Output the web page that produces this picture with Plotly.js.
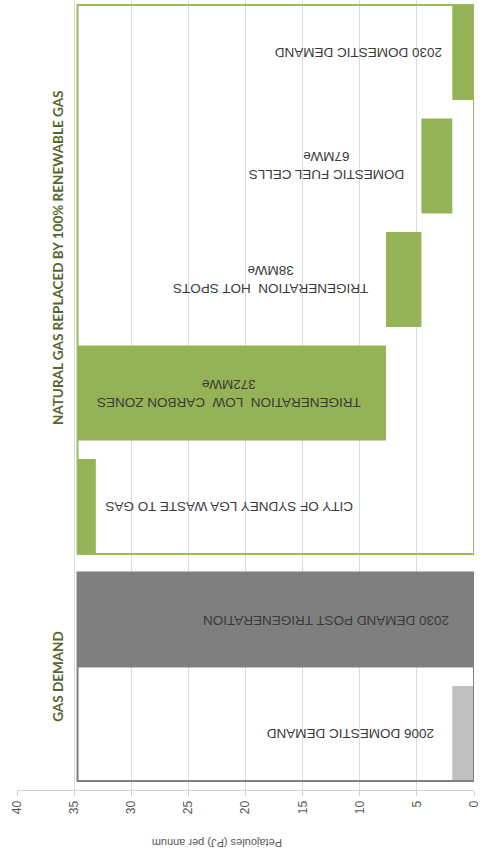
<!DOCTYPE html>
<html>
<head>
<meta charset="utf-8">
<script src="https://cdn.plot.ly/plotly-3.0.1.min.js"></script>
<style>
  html, body { margin: 0; padding: 0; background: #ffffff; }
  #chart { width: 483px; height: 858px; }
</style>
</head>
<body>
<div id="chart"></div>
<script>
// ---------- data ----------
const categories = [
  "2030 DOMESTIC DEMAND",
  "DOMESTIC FUEL CELLS",
  "TRIGENERATION HOT SPOTS",
  "TRIGENERATION LOW CARBON ZONES",
  "CITY OF SYDNEY LGA WASTE TO GAS",
  "2030 DEMAND POST TRIGENERATION",
  "2006 DOMESTIC DEMAND"
];
const barStart = [0, 1.9, 4.6, 7.7, 33.1, 0, 0];
const barValue = [1.9, 2.7, 3.1, 27.0, 1.6, 34.7, 1.9];
const capacityLabels = ["", "67MWe", "38MWe", "372MWe", "", "", ""];
const groupNames = ["NATURAL GAS REPLACED BY 100% RENEWABLE GAS", "GAS DEMAND"];
const groupOfCategory = [0, 0, 0, 0, 0, 1, 1];
const tickValues = [0, 5, 10, 15, 20, 25, 30, 35, 40];
const axisTitle = "Petajoules (PJ) per annum";

// ---------- layout / style ----------
const barColors = ["#93b356", "#93b356", "#93b356", "#93b356", "#93b356", "#7f7f7f", "#bfbfbf"];
const groupLineColors = ["#9bbb59", "#7f7f7f"];
const labelAt = [10.2, 12.9, 17.8, 21.5, 21.4, 13.0, 10.9];
const groupLabelX = 36.4;
const groupLabelShift = [-0.19, 0];
const barWidth = 0.837;

const bar = {
  type: "bar",
  orientation: "h",
  y: categories,
  x: barValue,
  base: barStart,
  width: barWidth,
  marker: { color: barColors, line: { width: 0 } },
  hoverinfo: "skip",
  showlegend: false
};

const annotations = [];
categories.forEach((c, i) => {
  const t = capacityLabels[i] ? c.replace("TRIGENERATION ", "TRIGENERATION  ").replace("LOW ", "LOW  ") + "<br>" + capacityLabels[i] : c;
  annotations.push({
    x: labelAt[i], y: i, xref: "x", yref: "y",
    text: t, showarrow: false, textangle: 180,
    font: { family: "Liberation Sans, Arial, sans-serif", size: 13.5, color: "#3a3a3a" }
  });
});

const shapes = [];
groupNames.forEach((g, gi) => {
  const idx = [];
  groupOfCategory.forEach((v, i) => { if (v === gi) idx.push(i); });
  const y0 = Math.min(...idx) - barWidth / 2;
  const y1 = Math.max(...idx) + barWidth / 2;
  const xMax = Math.max(...idx.map(i => barStart[i] + barValue[i]));
  shapes.push({
    type: "rect", xref: "x", yref: "y",
    x0: 0, x1: xMax, y0: y0, y1: y1,
    line: { color: groupLineColors[gi], width: 2 },
    fillcolor: "rgba(0,0,0,0)", layer: "above"
  });
  const yc = (Math.min(...idx) + Math.max(...idx)) / 2 + groupLabelShift[gi];
  annotations.push({
    x: groupLabelX, y: yc, xref: "x", yref: "y",
    text: "<b>" + g + "</b>", showarrow: false, textangle: -90,
    font: { family: "Lato, Open Sans, sans-serif", size: 13.5, color: "#56672d" }
  });
});

annotations.push({
  x: 0.4376, y: -0.078, xref: "paper", yref: "paper",
  text: axisTitle, showarrow: false, textangle: 180,
  font: { family: "Liberation Sans, Arial, sans-serif", size: 11, color: "#595959" }
});

const layout = {
  width: 483, height: 858,
  margin: { l: 17, r: 9, t: 0, b: 68 },
  paper_bgcolor: "#ffffff",
  plot_bgcolor: "#ffffff",
  showlegend: false,
  xaxis: {
    range: [40, 0],
    tickvals: tickValues,
    ticktext: tickValues.map(String),
    tickangle: -90,
    tickfont: { family: "Liberation Sans, Arial, sans-serif", size: 12, color: "#595959" },
    showgrid: true, gridcolor: "#dcdcdc", gridwidth: 1,
    zeroline: false,
    showline: true, linecolor: "#d0d0d0", linewidth: 1,
    ticks: "outside", ticklen: 5, tickcolor: "#d0d0d0"
  },
  yaxis: {
    type: "category",
    categoryorder: "array", categoryarray: categories,
    range: [6.498, -0.4626],
    showticklabels: false, showgrid: false, zeroline: false, showline: false, ticks: ""
  },
  shapes: shapes,
  annotations: annotations
};

Plotly.newPlot("chart", [bar], layout, { staticPlot: true, displayModeBar: false });
</script>
</body>
</html>
